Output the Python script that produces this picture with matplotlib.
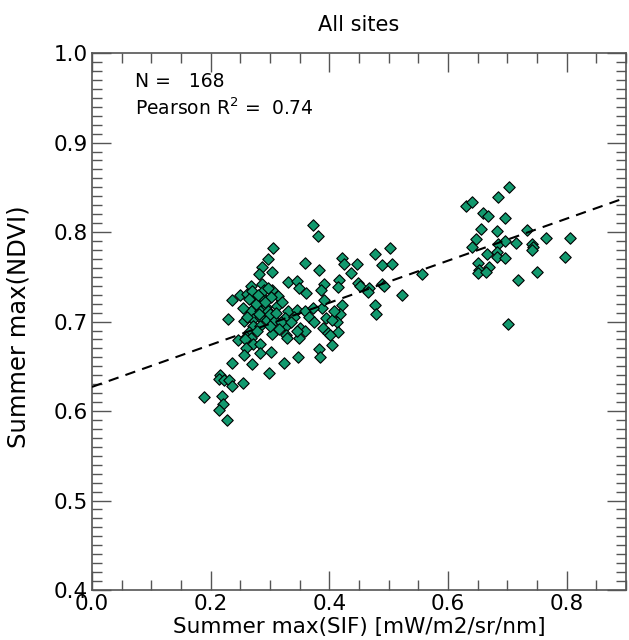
import numpy as np
import matplotlib
matplotlib.use("Agg")
import matplotlib.pyplot as plt
from matplotlib.ticker import MultipleLocator

# summer max SIF / summer max NDVI per site
sif = [
    # high-SIF group
    0.630, 0.640, 0.703, 0.684, 0.659, 0.667, 0.696, 0.656, 0.683, 0.733,
    0.648, 0.766, 0.806, 0.640, 0.684, 0.697, 0.715, 0.742, 0.744, 0.742,
    0.666, 0.683, 0.683, 0.696, 0.797, 0.650, 0.670, 0.652, 0.650, 0.665,
    0.750, 0.718, 0.701,
    # middle group
    0.502, 0.477, 0.421, 0.424, 0.446, 0.489, 0.506, 0.436, 0.556, 0.417,
    0.449, 0.415, 0.452, 0.467, 0.466, 0.489, 0.493, 0.523, 0.421, 0.477,
    0.418, 0.479, 0.413, 0.415,
    # low-SIF group
    0.372, 0.381, 0.305, 0.297, 0.359, 0.287, 0.304, 0.282, 0.383, 0.331,
    0.346, 0.268, 0.287, 0.349, 0.361, 0.391, 0.386, 0.249, 0.236, 0.261,
    0.270, 0.304, 0.314, 0.287, 0.302, 0.271, 0.289, 0.294, 0.312, 0.268,
    0.284, 0.297, 0.331, 0.346, 0.359, 0.229, 0.256, 0.272, 0.284, 0.295,
    0.308, 0.326, 0.340, 0.388, 0.391, 0.394, 0.405, 0.271, 0.284, 0.327,
    0.351, 0.359, 0.389, 0.398, 0.265, 0.259, 0.246, 0.268, 0.258, 0.303,
    0.327, 0.329, 0.349, 0.401, 0.271, 0.284, 0.259, 0.256, 0.284, 0.302,
    0.383, 0.385, 0.405, 0.236, 0.270, 0.324, 0.347, 0.298, 0.216, 0.214,
    0.222, 0.231, 0.236, 0.255, 0.189, 0.219, 0.221, 0.214, 0.228,
    # hidden in the dense part
    0.276, 0.281, 0.292, 0.300, 0.262, 0.278, 0.310, 0.318, 0.335, 0.345,
    0.366, 0.372, 0.375, 0.320, 0.290, 0.255, 0.265, 0.300, 0.408, 0.280,
    0.296, 0.315,
]
ndvi = [
    0.829, 0.834, 0.850, 0.839, 0.821, 0.818, 0.816, 0.803, 0.801, 0.802,
    0.792, 0.793, 0.793, 0.783, 0.787, 0.790, 0.788, 0.787, 0.783, 0.780,
    0.776, 0.778, 0.772, 0.771, 0.772, 0.766, 0.761, 0.758, 0.754, 0.755,
    0.755, 0.747, 0.697,
    0.782, 0.775, 0.771, 0.764, 0.764, 0.763, 0.764, 0.754, 0.753, 0.746,
    0.743, 0.739, 0.740, 0.737, 0.733, 0.742, 0.740, 0.730, 0.718, 0.718,
    0.709, 0.708, 0.699, 0.688,
    0.808, 0.796, 0.782, 0.770, 0.765, 0.761, 0.755, 0.753, 0.758, 0.744,
    0.745, 0.740, 0.742, 0.737, 0.732, 0.742, 0.735, 0.730, 0.724, 0.731,
    0.734, 0.735, 0.729, 0.727, 0.728, 0.723, 0.717, 0.716, 0.717, 0.712,
    0.712, 0.712, 0.712, 0.713, 0.712, 0.703, 0.701, 0.703, 0.705, 0.702,
    0.702, 0.704, 0.705, 0.715, 0.724, 0.704, 0.702, 0.695, 0.695, 0.695,
    0.693, 0.690, 0.693, 0.687, 0.688, 0.683, 0.679, 0.682, 0.681, 0.686,
    0.685, 0.682, 0.682, 0.685, 0.675, 0.675, 0.671, 0.663, 0.665, 0.666,
    0.669, 0.660, 0.674, 0.654, 0.653, 0.654, 0.660, 0.642, 0.640, 0.636,
    0.635, 0.635, 0.628, 0.631, 0.616, 0.617, 0.608, 0.601, 0.590,
    0.720, 0.708, 0.722, 0.708, 0.705, 0.690, 0.710, 0.700, 0.700, 0.690,
    0.705, 0.715, 0.700, 0.722, 0.735, 0.715, 0.725, 0.695, 0.712, 0.730,
    0.738, 0.692,
]

# regression line printed on the figure
fit_intercept = 0.627
fit_slope = 0.235
n_sites = 168
r2 = 0.74

fig = plt.figure(figsize=(6.29, 6.4), dpi=100)
ax = fig.add_axes([0.1463, 0.0781, 0.8487, 0.8389])

ax.scatter(sif, ndvi, marker="D", s=34, facecolor="#12996e",
           edgecolor="black", linewidth=0.8, zorder=3)

xl = np.array([0.0, 0.9])
ax.plot(xl, fit_intercept + fit_slope * xl, color="black", lw=1.5,
        dashes=(5, 3.5), zorder=4)

ax.set_xlim(0.0, 0.9)
ax.set_ylim(0.4, 1.0)
ax.xaxis.set_major_locator(MultipleLocator(0.2))
ax.xaxis.set_minor_locator(MultipleLocator(0.05))
ax.yaxis.set_major_locator(MultipleLocator(0.1))
ax.yaxis.set_minor_locator(MultipleLocator(0.01))
ax.tick_params(which="both", direction="in", top=True, right=True,
               color="#555555", labelsize=15.5, pad=3)
ax.tick_params(which="major", length=14, width=1.0)
ax.tick_params(which="minor", length=7, width=1.0)
for sp in ax.spines.values():
    sp.set_color("#555555")
    sp.set_linewidth(1.2)

ax.set_xlabel("Summer max(SIF) [mW/m2/sr/nm]", fontsize=15.5, labelpad=2)
ax.set_ylabel("Summer max(NDVI)", fontsize=17.5)
ax.yaxis.set_label_coords(-0.115, 0.49)
ax.set_title("All sites", fontsize=15, pad=16)

ax.text(0.072, 0.968, "N =   %d" % n_sites, fontsize=13.5, va="center")
ax.text(0.072, 0.938, "Pearson R$^2$ =  %.2f" % r2, fontsize=13.5,
        va="center")

fig.savefig("out.png", dpi=100)
